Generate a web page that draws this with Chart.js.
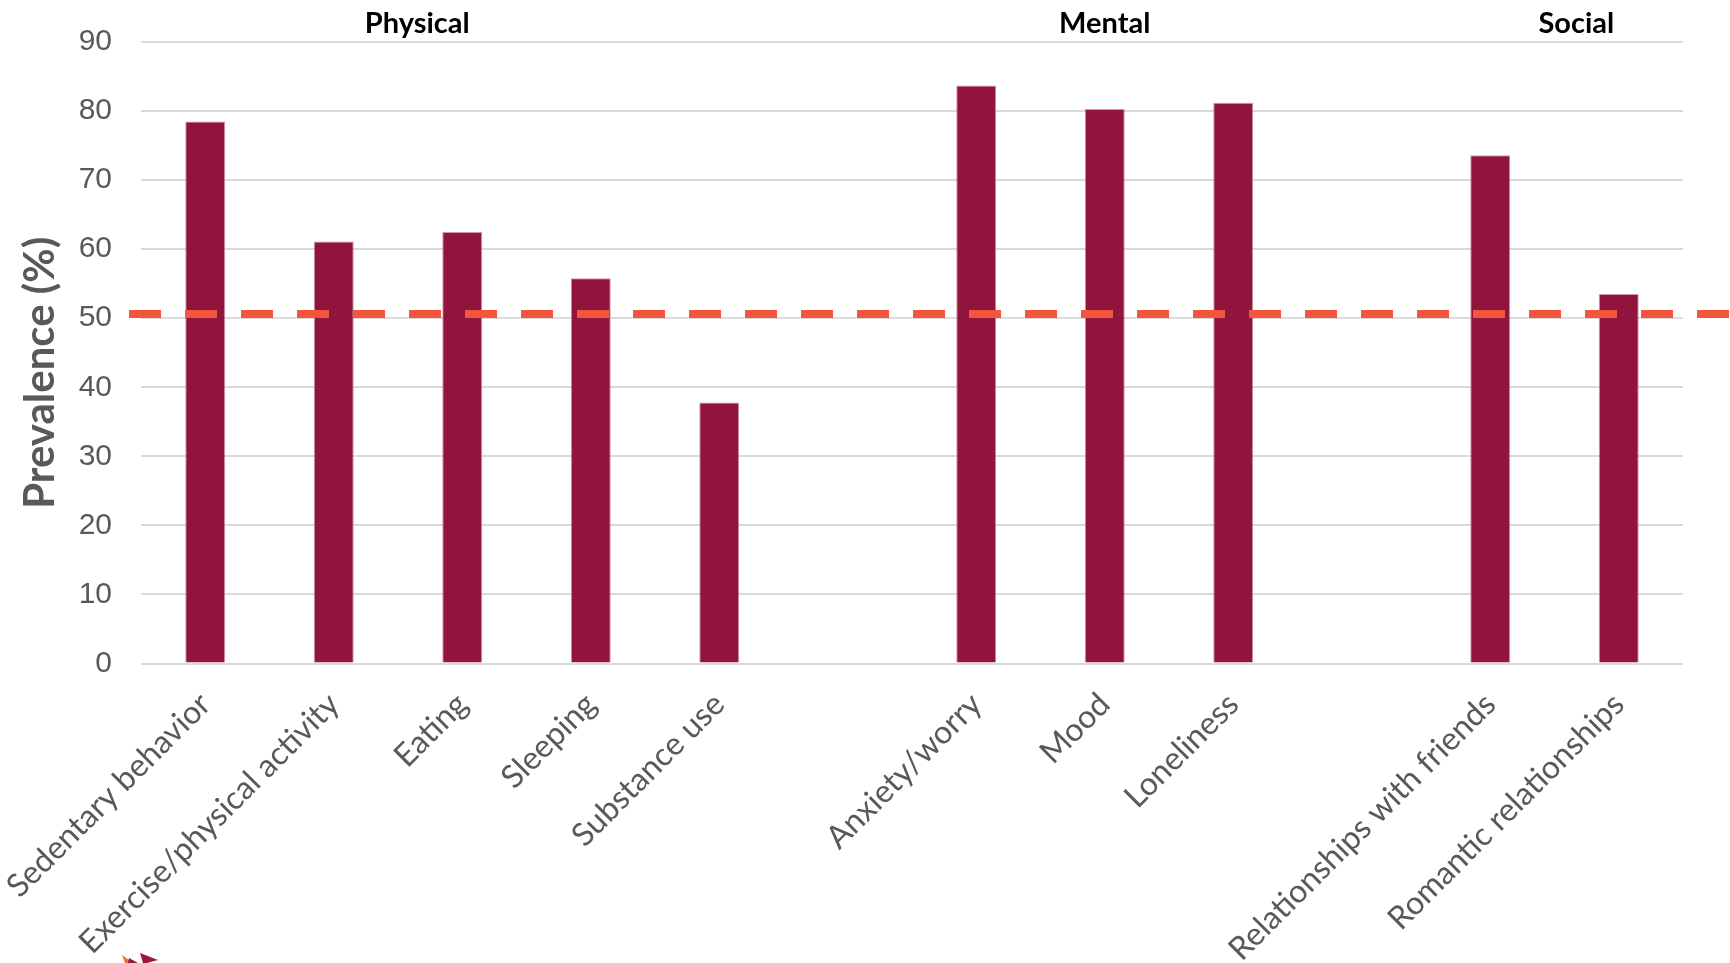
<!DOCTYPE html>
<html>
<head>
<meta charset="utf-8">
<title>Prevalence by domain</title>
<script src="https://cdn.jsdelivr.net/npm/chart.js@4.4.1/dist/chart.umd.min.js"></script>
<style>
  html, body { margin: 0; padding: 0; background: #fff; }
  #chart { display: block; }
</style>
</head>
<body>
<canvas id="chart" width="1730" height="963"></canvas>
<script>
// categories along the x axis (blank slots separate the three domains)
const categories = [
    'Sedentary behavior', 'Exercise/physical activity', 'Eating', 'Sleeping', 'Substance use',
    '',
    'Anxiety/worry', 'Mood', 'Loneliness',
    '',
    'Relationships with friends', 'Romantic relationships'
];
const prevalence = [78.5, 61.1, 62.5, 55.8, 37.8, null, 83.7, 80.3, 81.2, null, 73.6, 53.5];

// y axis ticks
const yTicks = [0, 10, 20, 30, 40, 50, 60, 70, 80, 90];
const yTitle = 'Prevalence (%)';

// domain headings, placed at a category index
const groupNames = ['Physical', 'Mental', 'Social'];
const groupAt = [1.65, 7.0, 10.67];

// overall prevalence reference line
const referenceLevel = 50.6;

// dashed reference line across the whole plot
const referenceLine = {
    id: 'referenceLine',
    afterDatasetsDraw(chart) {
        const ctx = chart.ctx;
        const y = chart.scales.y.getPixelForValue(referenceLevel);
        ctx.save();
        ctx.strokeStyle = '#f2573a';
        ctx.lineWidth = 8;
        ctx.lineCap = 'butt';
        ctx.setLineDash([32, 24]);
        ctx.beginPath();
        ctx.moveTo(chart.chartArea.left - 12, y);
        ctx.lineTo(chart.width, y);
        ctx.stroke();
        ctx.restore();
    }
};

// domain headings, y title (sits a bit below the axis middle) and the logo corner
const annotations = {
    id: 'annotations',
    afterDraw(chart) {
        const ctx = chart.ctx;
        const xScale = chart.scales.x;
        const area = chart.chartArea;
        ctx.save();
        ctx.font = 'bold 29px Lato';
        ctx.fillStyle = '#000';
        ctx.textAlign = 'center';
        ctx.textBaseline = 'alphabetic';
        groupNames.forEach((name, i) => {
            ctx.fillText(name, xScale.getPixelForValue(groupAt[i]), area.top - 9);
        });

        ctx.save();
        ctx.translate(54, (area.top + area.bottom) / 2 + 20);
        ctx.rotate(-Math.PI / 2);
        ctx.font = 'bold 42px Lato';
        ctx.fillStyle = '#595959';
        ctx.fillText(yTitle, 0, 0);
        ctx.restore();

        // logo corner
        ctx.fillStyle = '#f26b3a';
        ctx.beginPath();
        ctx.moveTo(122, 955); ctx.lineTo(133, 963); ctx.lineTo(125, 963);
        ctx.fill();
        ctx.fillStyle = '#8e1a3e';
        ctx.beginPath();
        ctx.moveTo(129, 958); ctx.lineTo(138, 963); ctx.lineTo(128, 963);
        ctx.fill();
        ctx.fillStyle = '#a3173f';
        ctx.beginPath();
        ctx.moveTo(140, 953); ctx.lineTo(158, 960); ctx.lineTo(147, 963); ctx.lineTo(143, 963);
        ctx.fill();
        ctx.restore();
    }
};

// keep the plot box fixed: no extra room for overhanging tick labels
function noOverhang(scale) {
    scale.paddingLeft = 0;
    scale.paddingRight = 0;
    scale.paddingTop = 0;
    scale.paddingBottom = 0;
}

const ctx = document.getElementById('chart').getContext('2d');
const chart = new Chart(ctx, {
    type: 'bar',
    data: {
        labels: categories,
        datasets: [{
            data: prevalence,
            backgroundColor: '#91133f',
            borderColor: 'rgba(196, 120, 152, 0.8)',
            borderWidth: 1,
            barPercentage: 0.311,
            categoryPercentage: 1.0
        }]
    },
    options: {
        responsive: false,
        animation: false,
        devicePixelRatio: 1,
        layout: { padding: { top: 42, right: 47, bottom: 0, left: 0 } },
        plugins: {
            legend: { display: false },
            tooltip: { enabled: false }
        },
        scales: {
            x: {
                grid: { display: false, drawTicks: false },
                border: { display: false },
                ticks: {
                    color: '#595959',
                    font: { family: 'Lato', size: 32 },
                    maxRotation: 45,
                    minRotation: 45,
                    autoSkip: false,
                    padding: 22
                },
                afterFit(scale) {
                    noOverhang(scale);
                    scale.height = 299.5;
                }
            },
            y: {
                min: 0,
                max: 90,
                afterBuildTicks(scale) { scale.ticks = yTicks.map(v => ({ value: v })); },
                ticks: {
                    color: '#595959',
                    font: { family: 'Liberation Sans', size: 30 },
                    padding: 29
                },
                grid: { color: '#d9d9d9', lineWidth: 2, drawTicks: false },
                border: { display: false },
                title: { display: false },
                afterFit(scale) {
                    noOverhang(scale);
                    scale.width = 141;
                }
            }
        }
    },
    plugins: [referenceLine, annotations]
});
</script>
</body>
</html>
